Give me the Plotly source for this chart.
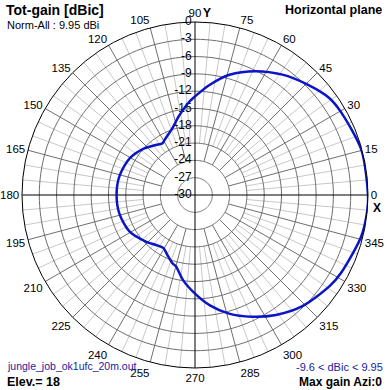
import plotly.graph_objects as go

# ---- data ----
azimuth_deg = [0, 15, 30, 36, 45, 54, 64, 74, 82.5, 90, 93.5, 101, 110, 119, 122, 128,
               137, 151, 166, 180, 194, 209, 224, 232, 239, 245, 252, 255, 262, 270,
               277.5, 286, 295, 304, 314, 326, 332, 346, 355, 360]
gain_rel_db = [0.0, -0.1, -0.9, -1.3, -2.75, -4.2, -6.1, -8.3, -10.75, -12.9, -13.8, -15.9,
               -18.0, -19.1, -19.4, -19.0, -18.1, -17.0, -16.5, -16.4, -16.5, -17.0, -18.3,
               -19.0, -19.3, -18.6, -17.5, -17.2, -15.1, -12.9, -10.75, -8.6, -6.7, -4.9,
               -3.2, -1.8, -1.3, -0.3, 0.0, 0.0]
ring_db = [-27, -24, -21, -18, -15, -12, -9, -6, -3]
radial_label_db = [0, -3, -6, -9, -12, -15, -18, -21, -24, -27, -30]
radial_labels = ["0", "-3", "-6", "-9", "-12", "-15", "-18", "-21", "-24", "-27", "-30"]
angle_ticks = list(range(0, 360, 15))
angle_tick_labels = [str(a) for a in angle_ticks]

W, H = 388, 390
ML, MR, MT, MB = 22, 20, 22, 22
PW, PH = W - ML - MR, H - MT - MB


def px(x):
    return (x - ML) / PW


def py(y):
    return 1 - (y - MT) / PH


R_MIN, R_MAX = -30, 0

fig = go.Figure()

# light 5-degree spokes
lt, lr = [], []
for a in range(0, 360, 5):
    if a % 15:
        lt += [a, a, None]
        lr += [-21, 0, None]
fig.add_trace(go.Scatterpolar(theta=lt, r=lr, mode="lines",
                              line=dict(color="#c8c8c8", width=1), hoverinfo="skip", showlegend=False))
# dark 15-degree spokes
dt, dr = [], []
for a in angle_ticks:
    if a % 90:
        dt += [a, a, None]
        dr += [-24, 0, None]
fig.add_trace(go.Scatterpolar(theta=dt, r=dr, mode="lines",
                              line=dict(color="#6e6e6e", width=1), hoverinfo="skip", showlegend=False))
# rings
for rv in ring_db:
    fig.add_trace(go.Scatterpolar(theta=list(range(0, 361, 2)), r=[rv] * 181, mode="lines",
                                  line=dict(color="#6e6e6e", width=1), hoverinfo="skip", showlegend=False))
# axes cross
fig.add_trace(go.Scatterpolar(theta=[0, 0, 180, 180, None, 90, 90, 270, 270],
                              r=[0, -30, -30, 0, None, 0, -30, -30, 0], mode="lines",
                              line=dict(color="black", width=1), hoverinfo="skip", showlegend=False))
# radial labels (trailing no-break space keeps them clear of the axis line)
fig.add_trace(go.Scatterpolar(theta=[90] * len(radial_label_db), r=radial_label_db, mode="text",
                              text=[t + "\u00a0" for t in radial_labels], textposition="middle left",
                              textfont=dict(family="Liberation Sans", size=12, color="black"),
                              cliponaxis=False, hoverinfo="skip", showlegend=False))
# pattern
fig.add_trace(go.Scatterpolar(theta=azimuth_deg, r=gain_rel_db, mode="lines",
                              line=dict(color="#0a14c8", width=2.5, shape="spline", smoothing=0.8),
                              hoverinfo="skip", showlegend=False))

fig.update_layout(
    width=W, height=H, margin=dict(l=ML, r=MR, t=MT, b=MB),
    paper_bgcolor="white", plot_bgcolor="white",
    font=dict(family="Liberation Sans", size=12, color="black"),
    polar=dict(
        bgcolor="white",
        domain=dict(x=[0, 1], y=[0, 1]),
        radialaxis=dict(range=[R_MIN, R_MAX], showgrid=False, showticklabels=False,
                        showline=False, ticks=""),
        angularaxis=dict(rotation=0, direction="counterclockwise", tickmode="array",
                         tickvals=angle_ticks, ticktext=angle_tick_labels, showgrid=False,
                         showline=True, linecolor="black", linewidth=1,
                         ticks="", tickfont=dict(family="Liberation Sans", size=11.5, color="black")),
    ),
)

ann = [
    ("<b>Tot-gain [dBic]</b>", 4, 10, "left", "black", 14),
    ("Norm-All : 9.95 dBi", 5, 25, "left", "black", 11),
    ("<b>Horizontal plane</b>", 384, 10, "right", "black", 12.5),
    ("jungle_job_ok1ufc_20m.out", 5, 366, "left", "#1a1aa0", 10.5),
    ("<b>Elev.= 18</b>", 5, 382, "left", "black", 12.5),
    ("-9.6 &lt; dBic &lt; 9.95", 385, 367, "right", "#1a1aa0", 11),
    ("<b>Max gain Azi:0</b>", 384, 382, "right", "black", 12),
    ("<b>Y</b>", 207, 13, "center", "black", 12),
    ("<b>X</b>", 377, 208, "center", "black", 12),
]
for text, x, y, anchor, color, size in ann:
    fig.add_annotation(text=text, x=px(x), y=py(y), xref="paper", yref="paper",
                       xanchor=anchor, yanchor="middle", showarrow=False,
                       font=dict(family="Liberation Sans", size=size, color=color))

fig.write_html("out.html", config={"displayModeBar": False},
               post_script="document.body.style.margin='0';")
